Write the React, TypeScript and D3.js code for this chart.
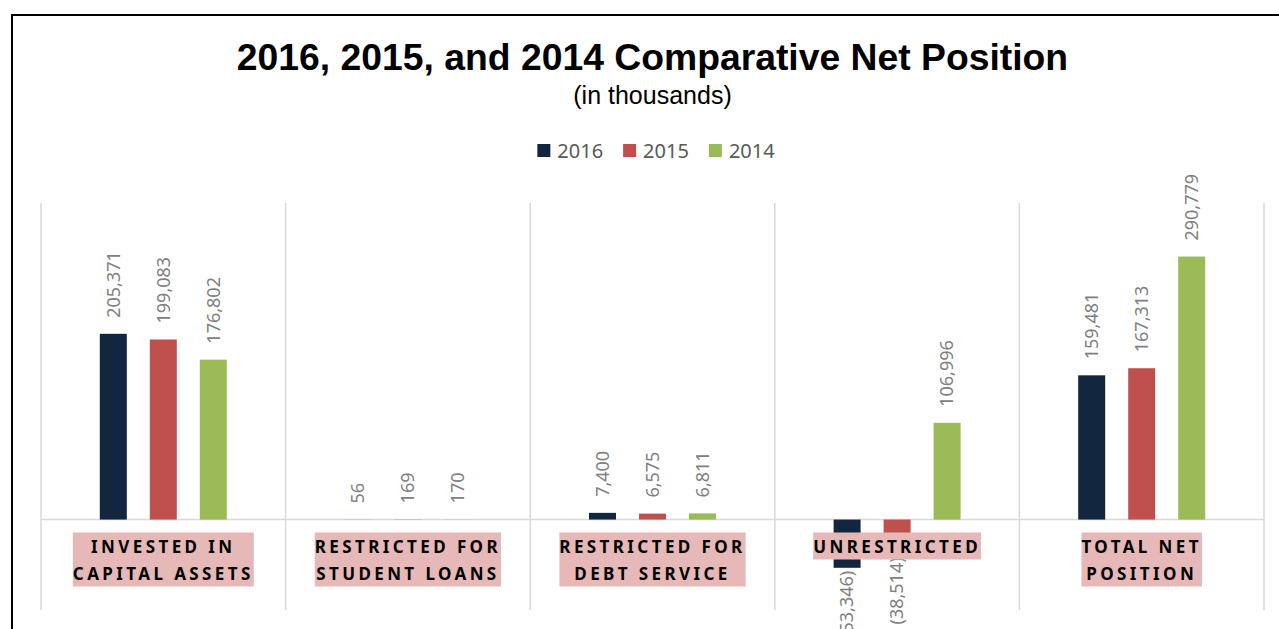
import React, { useEffect, useRef } from "react";
import * as d3 from "d3";

const categories = [
  ["INVESTED IN", "CAPITAL ASSETS"],
  ["RESTRICTED FOR", "STUDENT LOANS"],
  ["RESTRICTED FOR", "DEBT SERVICE"],
  ["UNRESTRICTED"],
  ["TOTAL NET", "POSITION"],
];
const series = ["2016", "2015", "2014"];
const colors = ["#13263f", "#c0504d", "#9bbb59"];
const values2016 = [205371, 56, 7400, -53346, 159481];
const values2015 = [199083, 169, 6575, -38514, 167313];
const values2014 = [176802, 170, 6811, 106996, 290779];
const allValues = [values2016, values2015, values2014];

const W = 1279;
const H = 629;

export default function App() {
  const ref = useRef<SVGSVGElement>(null);

  useEffect(() => {
    const svg = d3.select(ref.current);
    svg.selectAll("*").remove();

    // frame
    svg.append("rect").attr("x", 12).attr("y", 15).attr("width", 1400).attr("height", 800)
      .attr("fill", "none").attr("stroke", "#000").attr("stroke-width", 2);

    const x0 = d3.scaleBand<number>().domain(d3.range(categories.length)).range([41, 1264]).paddingInner(0).paddingOuter(0);
    const x1 = d3.scaleBand<string>().domain(series).range([-75, 75]).paddingInner(0.46).paddingOuter(0.23);
    const y = d3.scaleLinear().domain([-100000, 350000]).range([610, 203]);

    // title
    svg.append("text").attr("x", 652.5).attr("y", 70).attr("text-anchor", "middle")
      .attr("font-family", "Liberation Sans, Arial, sans-serif").attr("font-weight", "bold")
      .attr("font-size", 37.3).attr("fill", "#000").text("2016, 2015, and 2014 Comparative Net Position");
    svg.append("text").attr("x", 652.5).attr("y", 104).attr("text-anchor", "middle")
      .attr("font-family", "Liberation Sans, Arial, sans-serif")
      .attr("font-size", 25).attr("fill", "#000").text("(in thousands)");

    // legend
    const lg = svg.append("g");
    let lx = 0;
    series.forEach((s, i) => {
      const g = lg.append("g").attr("transform", `translate(${lx},0)`);
      g.append("rect").attr("x", 0).attr("y", 144).attr("width", 13).attr("height", 13).attr("fill", colors[i]);
      const t = g.append("text").attr("x", 20).attr("y", 158).attr("font-family", "Noto Sans, sans-serif")
        .attr("font-size", 20).attr("fill", "#595959").text(s);
      const tw = (t.node() as SVGTextElement).getComputedTextLength();
      lx += 20 + tw + 20;
    });
    const lw = lx - 20;
    lg.attr("transform", `translate(${656 - lw / 2},0)`);

    // gridlines
    const grid = svg.append("g");
    const bounds = [...x0.domain().map((d) => x0(d)!), 1264];
    bounds.forEach((bx) => {
      grid.append("line").attr("x1", bx).attr("x2", bx).attr("y1", y(350000)).attr("y2", y(-100000))
        .attr("stroke", "#d9d9d9").attr("stroke-width", 1.5);
    });
    grid.append("line").attr("x1", 41).attr("x2", 1264).attr("y1", y(0)).attr("y2", y(0))
      .attr("stroke", "#d9d9d9").attr("stroke-width", 1.5);

    // bars
    const bars = svg.append("g");
    const labels = svg.append("g");
    categories.forEach((_, ci) => {
      const cx = x0(ci)! + x0.bandwidth() / 2;
      series.forEach((s, si) => {
        const v = allValues[si][ci];
        const bx = cx + x1(s)!;
        const top = y(Math.max(0, v));
        const bot = y(Math.min(0, v));
        bars.append("rect").attr("x", bx).attr("y", top).attr("width", x1.bandwidth())
          .attr("height", Math.max(0, bot - top)).attr("fill", colors[si]);
        const mx = bx + x1.bandwidth() / 2;
        const txt = v < 0 ? `(${d3.format(",")(-v)})` : d3.format(",")(v);
        if (v >= 0) {
          labels.append("text").attr("transform", `translate(${mx},${top - 16}) rotate(-90)`)
            .attr("dy", "0.35em").attr("text-anchor", "start")
            .attr("font-family", "Noto Sans, sans-serif").attr("font-size", 18).attr("fill", "#808080").text(txt);
        } else {
          labels.append("text").attr("transform", `translate(${mx},${bot + 3}) rotate(-90)`)
            .attr("dy", "0.35em").attr("text-anchor", "end")
            .attr("font-family", "Noto Sans, sans-serif").attr("font-size", 18).attr("fill", "#808080").text(txt);
        }
      });
    });

    // category labels
    const cl = svg.append("g");
    categories.forEach((lines, ci) => {
      const cx = x0(ci)! + x0.bandwidth() / 2;
      const g = cl.append("g");
      const rect = g.append("rect").attr("fill", "#e6b9b8");
      let maxW = 0;
      lines.forEach((ln, li) => {
        const t = g.append("text").attr("x", cx).attr("y", 552.5 + li * 27.5).attr("text-anchor", "middle")
          .attr("font-family", "Noto Sans, sans-serif").attr("font-weight", "bold").attr("font-size", 17)
          .attr("letter-spacing", 3.4).attr("fill", "#000").text(ln);
        const w = (t.node() as SVGTextElement).getComputedTextLength();
        maxW = Math.max(maxW, w);
      });
      rect.attr("x", cx - maxW / 2).attr("y", 532.5).attr("width", maxW).attr("height", lines.length * 27);
    });
  }, []);

  return (
    <svg ref={ref} width={W} height={H} style={{ position: "absolute", left: 0, top: 0, background: "#fff" }} />
  );
}
